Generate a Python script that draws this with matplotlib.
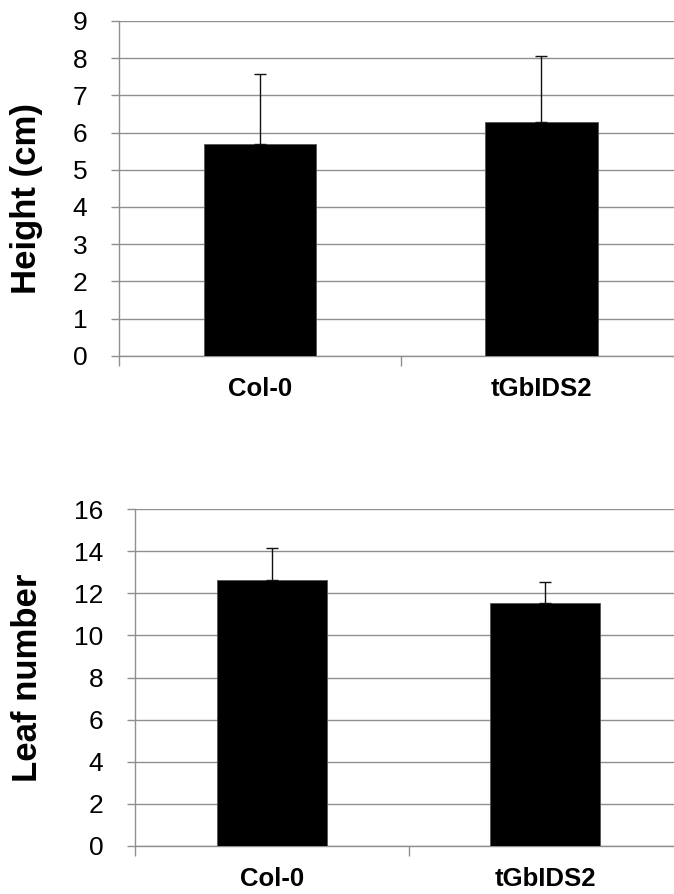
import matplotlib.pyplot as plt
import numpy as np

plt.rcParams['font.family'] = ['Liberation Sans', 'DejaVu Sans']

genotypes = ['Col-0', 'tGbIDS2']
height_mean = [5.68, 6.28]
height_err = [1.90, 1.77]
leaf_mean = [12.65, 11.53]
leaf_err = [1.53, 1.00]

grid_col = '#8f8f8f'


def bar_panel(ax, means, errs, ylabel, ymax, ystep):
    x = np.arange(len(genotypes))
    ax.bar(x, means, width=0.4, color='black', edgecolor='#555555',
           linewidth=0.6, zorder=3)
    ax.errorbar(x, means, yerr=[np.zeros(len(errs)), errs], fmt='none',
                ecolor='#111111', elinewidth=1.0, capsize=4, capthick=1.0,
                zorder=4)
    ax.set_xlim(-0.5, len(genotypes) - 0.5)
    ax.set_ylim(0, ymax)
    ax.set_yticks(np.arange(0, ymax + 0.1, ystep))
    ax.yaxis.grid(True, color=grid_col, linewidth=1.0, zorder=0)
    ax.set_axisbelow(True)

    # category labels on major ticks, tick marks on the category boundaries
    ax.set_xticks(x)
    ax.set_xticklabels(genotypes, fontsize=18.5, fontweight='bold')
    ax.set_xticks(np.arange(-0.5, len(genotypes)), minor=True)
    ax.tick_params(axis='x', which='major', length=0, pad=15)
    ax.tick_params(axis='x', which='minor', length=7, width=1.0,
                   color=grid_col)
    ax.tick_params(axis='y', length=6, width=1.0, color=grid_col,
                   labelsize=19, pad=17)

    for side in ['top', 'right']:
        ax.spines[side].set_visible(False)
    for side in ['left', 'bottom']:
        ax.spines[side].set_color(grid_col)
        ax.spines[side].set_linewidth(1.0)

    ax.set_ylabel(ylabel, fontsize=25, fontweight='bold')


fig = plt.figure(figsize=(6.74, 8.94), dpi=100)

ax1 = fig.add_axes([0.177, 0.602, 0.835, 0.3746])
bar_panel(ax1, height_mean, height_err, 'Height (cm)', 9, 1)
ax1.yaxis.set_label_coords(-0.135, 0.47)

ax2 = fig.add_axes([0.2009, 0.054, 0.8104, 0.3763])
bar_panel(ax2, leaf_mean, leaf_err, 'Leaf number', 16, 2)
ax2.yaxis.set_label_coords(-0.167, 0.5)

fig.savefig('out.png', dpi=100)
